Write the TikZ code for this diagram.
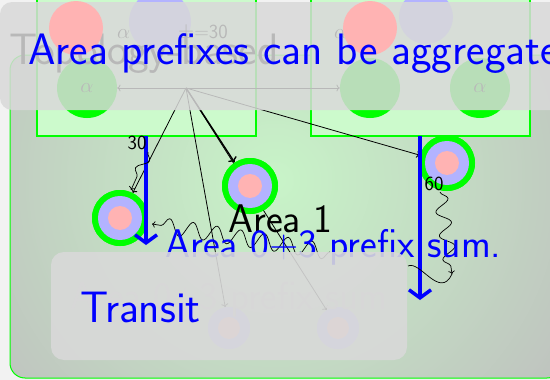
\documentclass[tikz,border=0pt]{standalone}
\usetikzlibrary{decorations.pathmorphing,arrows.meta}
\definecolor{bgl}{HTML}{F2F2F2}
\definecolor{pinkc}{HTML}{FFB3B3}
\definecolor{lavc}{HTML}{B3B3FF}
\definecolor{lgreen}{HTML}{CCFACC}
\definecolor{gshade}{HTML}{C8F4C8}
\definecolor{gout}{HTML}{BEBEBE}
\definecolor{veil}{HTML}{D9D9D9}
\newcommand{\fsz}[1]{\sffamily\fontsize{#1}{#1}\selectfont}
\begin{document}
\begin{tikzpicture}[x=1pt,y=-1pt,
  gbox/.style={draw=green, fill=lgreen, line width=1.2pt, minimum width=219pt, minimum height=150pt, inner sep=0pt},
  gdot/.style={circle, fill=green, minimum size=60pt, inner sep=0pt, font=\fsz{20}},
  ldot/.style={circle, fill=lavc, minimum size=#1, inner sep=0pt},
  pdot/.style={circle, fill=pinkc, minimum size=#1, inner sep=0pt},
  ring/.style={circle, fill=green, minimum size=56pt, inner sep=0pt},
  hubline/.style={->, line width=0.8pt},
  barrow/.style={blue, line width=3.5pt, -{Straight Barb[length=8pt,width=22pt]}},
  wavy/.style={->, line width=0.7pt, decorate, decoration={snake, amplitude=#1, segment length=24pt, post length=4pt}},
  lab/.style={font=\fsz{20}, inner sep=0pt},
  bigtext/.style={anchor=base west, inner sep=0pt, font=\fsz{#1}}
]
\useasboundingbox (0,0) rectangle (550,380);
\fill[bgl] (0,0) rectangle (550,380);
% background panel
\begin{scope}
  \clip[rounded corners=15pt] (10,55) rectangle (562,378);
  \shade[inner color=gshade, outer color=gout] (275,180) circle (380pt);
\end{scope}
\draw[green, line width=1pt, rounded corners=15pt] (10,55) rectangle (562,378);
% green boxes
\node[gbox] (boxL) at (146.5,61) {};
\node[gbox] (boxR) at (420.5,61) {};
% faded top circles
\node[gdot] (gA) at (87,88) {$\alpha$};
\node[gdot] (gB) at (370,88) {};
\node[gdot] (gC) at (480,88) {$\alpha$};
\node[ldot=62pt] (lA) at (160,22) {};
\node[ldot=54pt] (lB) at (426,17) {};
\node[bigtext=20] (ta) at (117,38) {$\alpha$};
\node[bigtext=20] (tb) at (178,38) {$\pm$=30};
\node[bigtext=20] (tc) at (334,38) {$\alpha$};
\node[bigtext=44] (topo) at (9,64) {Topology-based};
% nodes
\coordinate (hub) at (186,88);
\node[ring] (cL) at (120,218) {};
\node[ring] (cM) at (250,186) {};
\node[ring] (cR) at (447,163) {};
\node[ldot=42pt] (fA) at (229,328) {};
\node[ldot=42pt] (fB) at (338,328) {};
% hub connectors
\draw[hubline] (hub) -- (gA);
\draw[hubline] (hub) -- (gB);
\draw[hubline] (hub) -- (cL);
\draw[->, line width=1.4pt] (hub) -- (cM);
\draw[hubline] (hub) -- (cR);
\draw[hubline] (hub) -- (fA);
\draw[hubline] (hub) -- (fB);
% rings on top
\node[ring] at (cL) {};
\node[ring] at (cM) {};
\node[ring] at (cR) {};
\foreach \n in {cL,cM,cR} {
  \node[ldot=44pt] at (\n) {};
  \node[pdot=24pt] at (\n) {};
}
\node[ldot=42pt] at (fA) {};
\node[ldot=42pt] at (fB) {};
\node[pdot=22pt] at (fA) {};
\node[pdot=22pt] at (fB) {};
\node[bigtext=39, text=gray!45] (fsum) at (70,309) {Area 0+3 prefix sum};
% blue arrows
\coordinate (b1s) at (146,136);
\coordinate (b1e) at (146,245);
\coordinate (b2s) at (420,136);
\coordinate (b2e) at (420,300);
\draw[barrow] (b1s) -- (b1e);
\draw[barrow] (b2s) -- (b2e);
% labels
\node[lab] (l30) at (137,143) {30};
\node[lab] (l60) at (434,184) {60};
% wavy connectors
\coordinate (w1s) at (148,152);
\coordinate (w1e) at (131,190);
\draw[wavy=5pt] (w1s) -- (w1e);
\coordinate (w2s) at (330,252);
\coordinate (w2e) at (152,224);
\draw[wavy=8pt] (w2s) -- (w2e);
\coordinate (w3s) at (440,192);
\coordinate (w3e) at (452,274);
\draw[wavy=7pt] (w3s) -- (w3e);
\coordinate (w4e) at (408,266);
\draw[line width=0.7pt] (w3e) .. controls (440,300) and (420,260) .. (w4e);
% texts
\node[bigtext=40] (area1) at (228,232) {Area 1};
\node[bigtext=40, text=blue] (sum) at (165,257) {Area 0+3 prefix sum.};
% banner
\fill[veil, opacity=0.85, rounded corners=12pt] (0,2) rectangle (580,110);
\node[pdot=54pt] (pA) at (76,28) {};
\node[pdot=54pt] (pB) at (370,28) {};
\node[bigtext=44, text=blue] (title) at (28,64) {Area prefixes can be aggregated};
% transit box
\fill[veil, opacity=0.9, rounded corners=13pt] (51,252) rectangle (407,360);
\node[bigtext=44, text=blue] (transit) at (80,322) {Transit};
\end{tikzpicture}
\end{document}
